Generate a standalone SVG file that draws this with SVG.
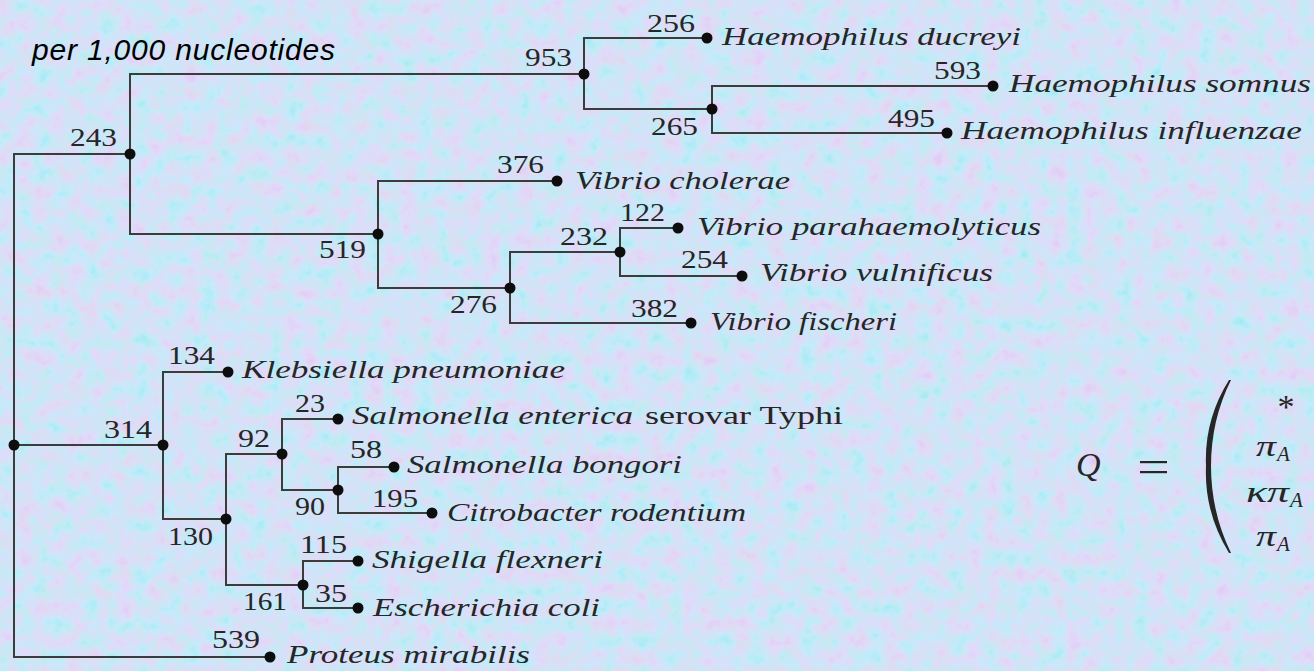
<svg xmlns="http://www.w3.org/2000/svg" width="1314" height="671" viewBox="0 0 1314 671">
<defs>
<filter id="tex" x="0" y="0" width="100%" height="100%">
<feTurbulence type="fractalNoise" baseFrequency="0.06" numOctaves="3" seed="11"/>
<feColorMatrix type="matrix" values="1.3 0 0 0 0.1  -0.8 0 0 0 1.28  0 0 0.3 0 0.82  0 0 0 0 0.5"/>
</filter>
<style>
.edge{fill:none;stroke:#3c3c3c;stroke-width:2}
.dot{fill:#0d0d0d}
.num{font-family:"Liberation Serif","Times New Roman",serif;font-size:25px;fill:#262626;text-anchor:end}
.sp{font-family:"Liberation Serif","Times New Roman",serif;font-size:25px;font-style:italic;fill:#262626}
.up{font-family:"Liberation Serif","Times New Roman",serif;font-size:25px;fill:#262626}
.cap{font-family:"Liberation Sans",Arial,sans-serif;font-size:30px;font-style:italic;fill:#000}
.math{font-family:"Liberation Serif","Times New Roman",serif;fill:#262626}
</style>
</defs>
<rect width="1314" height="671" fill="#c3d6f3"/>
<rect width="1314" height="671" filter="url(#tex)"/>
<text class="cap" x="32" y="60" textLength="303">per 1,000 nucleotides</text>
<g id="connectors">
<path class="edge" d="M14 445 V154 H130"/>
<path class="edge" d="M14 445 H163"/>
<path class="edge" d="M14 445 V657 H270"/>
<path class="edge" d="M130 154 V74 H584"/>
<path class="edge" d="M130 154 V234 H378"/>
<path class="edge" d="M584 74 V38 H707"/>
<path class="edge" d="M584 74 V109 H712"/>
<path class="edge" d="M712 109 V86 H993"/>
<path class="edge" d="M712 109 V133 H947"/>
<path class="edge" d="M378 234 V181 H557"/>
<path class="edge" d="M378 234 V288 H510"/>
<path class="edge" d="M510 288 V252 H620"/>
<path class="edge" d="M510 288 V323 H691"/>
<path class="edge" d="M620 252 V228 H678"/>
<path class="edge" d="M620 252 V276 H742"/>
<path class="edge" d="M163 445 V372 H228"/>
<path class="edge" d="M163 445 V519 H226"/>
<path class="edge" d="M226 519 V454 H282"/>
<path class="edge" d="M226 519 V585 H303"/>
<path class="edge" d="M282 454 V419 H338"/>
<path class="edge" d="M282 454 V490 H338"/>
<path class="edge" d="M338 490 V467 H394"/>
<path class="edge" d="M338 490 V513 H432"/>
<path class="edge" d="M303 585 V561 H358"/>
<path class="edge" d="M303 585 V608 H358"/>
</g>
<g id="root"><circle class="dot" cx="14" cy="445" r="5.5"/></g>
<g id="n243"><circle class="dot" cx="130" cy="154" r="5.5"/><text class="num" x="117" y="146" textLength="47" lengthAdjust="spacingAndGlyphs">243</text></g>
<g id="n953"><circle class="dot" cx="584" cy="74" r="5.5"/><text class="num" x="572" y="66" textLength="47" lengthAdjust="spacingAndGlyphs">953</text></g>
<g id="ducreyi"><circle class="dot" cx="707" cy="38" r="5.5"/><text class="num" x="695" y="32" textLength="48" lengthAdjust="spacingAndGlyphs">256</text><text class="sp" x="722" y="45" textLength="299" lengthAdjust="spacingAndGlyphs">Haemophilus ducreyi</text></g>
<g id="n265"><circle class="dot" cx="712" cy="109" r="5.5"/><text class="num" x="698" y="135" textLength="47" lengthAdjust="spacingAndGlyphs">265</text></g>
<g id="somnus"><circle class="dot" cx="993" cy="86" r="5.5"/><text class="num" x="981" y="79" textLength="47" lengthAdjust="spacingAndGlyphs">593</text><text class="sp" x="1009" y="92" textLength="302" lengthAdjust="spacingAndGlyphs">Haemophilus somnus</text></g>
<g id="influenzae"><circle class="dot" cx="947" cy="133" r="5.5"/><text class="num" x="935" y="127" textLength="47" lengthAdjust="spacingAndGlyphs">495</text><text class="sp" x="961" y="139" textLength="341" lengthAdjust="spacingAndGlyphs">Haemophilus influenzae</text></g>
<g id="n519"><circle class="dot" cx="378" cy="234" r="5.5"/><text class="num" x="366" y="258" textLength="47" lengthAdjust="spacingAndGlyphs">519</text></g>
<g id="cholerae"><circle class="dot" cx="557" cy="181" r="5.5"/><text class="num" x="544" y="173" textLength="47" lengthAdjust="spacingAndGlyphs">376</text><text class="sp" x="575" y="189" textLength="215" lengthAdjust="spacingAndGlyphs">Vibrio cholerae</text></g>
<g id="n276"><circle class="dot" cx="510" cy="288" r="5.5"/><text class="num" x="497" y="313" textLength="47" lengthAdjust="spacingAndGlyphs">276</text></g>
<g id="n232"><circle class="dot" cx="620" cy="252" r="5.5"/><text class="num" x="608" y="245" textLength="48" lengthAdjust="spacingAndGlyphs">232</text></g>
<g id="parahaemolyticus"><circle class="dot" cx="678" cy="228" r="5.5"/><text class="num" x="665" y="221" textLength="45" lengthAdjust="spacingAndGlyphs">122</text><text class="sp" x="697" y="235" textLength="344" lengthAdjust="spacingAndGlyphs">Vibrio parahaemolyticus</text></g>
<g id="vulnificus"><circle class="dot" cx="742" cy="276" r="5.5"/><text class="num" x="728" y="268" textLength="47" lengthAdjust="spacingAndGlyphs">254</text><text class="sp" x="760" y="281" textLength="233" lengthAdjust="spacingAndGlyphs">Vibrio vulnificus</text></g>
<g id="fischeri"><circle class="dot" cx="691" cy="323" r="5.5"/><text class="num" x="678" y="317" textLength="47" lengthAdjust="spacingAndGlyphs">382</text><text class="sp" x="710" y="330" textLength="187" lengthAdjust="spacingAndGlyphs">Vibrio fischeri</text></g>
<g id="n314"><circle class="dot" cx="163" cy="445" r="5.5"/><text class="num" x="152" y="438" textLength="48" lengthAdjust="spacingAndGlyphs">314</text></g>
<g id="klebsiella"><circle class="dot" cx="228" cy="372" r="5.5"/><text class="num" x="215" y="364" textLength="47" lengthAdjust="spacingAndGlyphs">134</text><text class="sp" x="242" y="378" textLength="323" lengthAdjust="spacingAndGlyphs">Klebsiella pneumoniae</text></g>
<g id="n130"><circle class="dot" cx="226" cy="519" r="5.5"/><text class="num" x="213" y="545" textLength="45" lengthAdjust="spacingAndGlyphs">130</text></g>
<g id="n92"><circle class="dot" cx="282" cy="454" r="5.5"/><text class="num" x="270" y="447" textLength="32" lengthAdjust="spacingAndGlyphs">92</text></g>
<g id="typhi"><circle class="dot" cx="338" cy="419" r="5.5"/><text class="num" x="325" y="412" textLength="30" lengthAdjust="spacingAndGlyphs">23</text><text class="sp" x="352" y="424" textLength="281" lengthAdjust="spacingAndGlyphs">Salmonella enterica</text><text class="up" x="645" y="424" textLength="198" lengthAdjust="spacingAndGlyphs">serovar Typhi</text></g>
<g id="n90"><circle class="dot" cx="338" cy="490" r="5.5"/><text class="num" x="325" y="515" textLength="30" lengthAdjust="spacingAndGlyphs">90</text></g>
<g id="bongori"><circle class="dot" cx="394" cy="467" r="5.5"/><text class="num" x="382" y="458" textLength="32" lengthAdjust="spacingAndGlyphs">58</text><text class="sp" x="407" y="473" textLength="275" lengthAdjust="spacingAndGlyphs">Salmonella bongori</text></g>
<g id="citrobacter"><circle class="dot" cx="432" cy="513" r="5.5"/><text class="num" x="418" y="507" textLength="46" lengthAdjust="spacingAndGlyphs">195</text><text class="sp" x="447" y="521" textLength="299" lengthAdjust="spacingAndGlyphs">Citrobacter rodentium</text></g>
<g id="n161"><circle class="dot" cx="303" cy="585" r="5.5"/><text class="num" x="287" y="610" textLength="44" lengthAdjust="spacingAndGlyphs">161</text></g>
<g id="shigella"><circle class="dot" cx="358" cy="561" r="5.5"/><text class="num" x="347" y="553" textLength="47" lengthAdjust="spacingAndGlyphs">115</text><text class="sp" x="372" y="568" textLength="231" lengthAdjust="spacingAndGlyphs">Shigella flexneri</text></g>
<g id="ecoli"><circle class="dot" cx="358" cy="608" r="5.5"/><text class="num" x="347" y="602" textLength="32" lengthAdjust="spacingAndGlyphs">35</text><text class="sp" x="373" y="616" textLength="227" lengthAdjust="spacingAndGlyphs">Escherichia coli</text></g>
<g id="proteus"><circle class="dot" cx="270" cy="657" r="5.5"/><text class="num" x="260" y="648" textLength="48" lengthAdjust="spacingAndGlyphs">539</text><text class="sp" x="287" y="663" textLength="243" lengthAdjust="spacingAndGlyphs">Proteus mirabilis</text></g>
<g id="qmatrix">
<text class="math" x="1076" y="476" font-size="34" font-style="italic">Q</text>
<rect x="1140" y="461" width="27" height="2.2" fill="#262626"/>
<rect x="1140" y="471" width="27" height="2.2" fill="#262626"/>
<path d="M1229 380 Q1204 420 1206 466 Q1204 512 1229 553 L1231 553 Q1211 512 1211 466 Q1211 420 1231 380 Z" fill="#262626"/>
<text class="math" x="1286" y="418" font-size="34" text-anchor="middle">*</text>
<text class="math" x="1256" y="456" font-size="30" font-style="italic" textLength="20" lengthAdjust="spacingAndGlyphs">π</text>
<text class="math" x="1277" y="461" font-size="21" font-style="italic">A</text>
<text class="math" x="1246" y="502" font-size="30" font-style="italic" textLength="43" lengthAdjust="spacingAndGlyphs">κπ</text>
<text class="math" x="1290" y="507" font-size="21" font-style="italic">A</text>
<text class="math" x="1256" y="546" font-size="30" font-style="italic" textLength="20" lengthAdjust="spacingAndGlyphs">π</text>
<text class="math" x="1277" y="551" font-size="21" font-style="italic">A</text>
</g>
</svg>
